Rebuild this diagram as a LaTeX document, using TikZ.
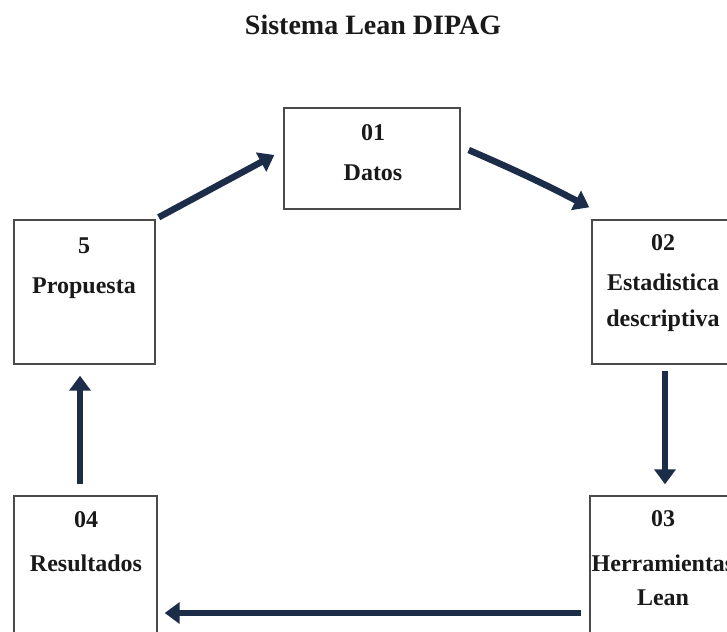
\documentclass[tikz,border=0pt]{standalone}
\usepackage{fontspec}
\setmainfont{Liberation Serif}
\usetikzlibrary{arrows.meta,calc}

\definecolor{navy}{HTML}{1B2D49}
\definecolor{frame}{HTML}{4A4A4A}

\tikzset{
  stage/.style={draw=frame, line width=1.4pt, fill=white, rectangle, inner sep=0pt},
  lbl/.style={anchor=base, inner sep=0pt, font=\fontsize{24}{28}\selectfont\bfseries, text=black!90},
  flow/.style={draw=navy, line width=6.5pt, -{Triangle[width=21pt,length=15pt]}},
  heading/.style={anchor=base, inner sep=0pt, font=\fontsize{28}{32}\selectfont\bfseries, text=black!90}
}

\begin{document}
\begin{tikzpicture}[x=1pt,y=1pt]
  \useasboundingbox (0,0) rectangle (727,-631);
  \clip (0,0) rectangle (727,-631);
  \fill[white] (0,0) rectangle (727,-631);

  % title
  \node[heading] (title) at (373,-35) {Sistema Lean DIPAG};

  % process stages
  \node[stage, minimum width=176pt, minimum height=101pt] (b1) at (372,-158.5) {};
  \node[stage, minimum width=141pt, minimum height=144pt] (b5) at (84.5,-292) {};
  \node[stage, minimum width=142pt, minimum height=144pt] (b2) at (663,-292) {};
  \node[stage, minimum width=144pt, minimum height=144pt] (b3) at (662,-568) {};
  \node[stage, minimum width=143pt, minimum height=144pt] (b4) at (85.5,-568) {};

  % stage texts
  \node[lbl] (t1a) at (373,-141) {01};
  \node[lbl] (t1b) at (373,-180) {Datos};
  \node[lbl] (t5a) at (84,-253) {5};
  \node[lbl] (t5b) at (84,-293) {Propuesta};
  \node[lbl] (t2a) at (663,-250) {02};
  \node[lbl] (t2b) at (663,-290) {Estadistica};
  \node[lbl] (t2c) at (663,-326) {descriptiva};
  \node[lbl] (t3a) at (663,-526) {03};
  \node[lbl] (t3b) at (663,-571) {Herramientas};
  \node[lbl] (t3c) at (663,-605) {Lean};
  \node[lbl] (t4a) at (86,-527) {04};
  \node[lbl] (t4b) at (86,-571) {Resultados};

  % cycle arrows
  \draw[flow] ([shift={(3,2)}]b5.north east) -- ([shift={(-9,3.5)}]b1.west);
  \draw[flow] ([shift={(8,8.5)}]b1.east) to[bend left=2] ([shift={(-2,12)}]b2.north west);
  \draw[flow] ([shift={(2,-6)}]b2.south) -- ([shift={(3,11)}]b3.north);
  \draw[flow] ([shift={(-8,-45)}]b3.west) -- ([shift={(7,-45)}]b4.east);
  \draw[flow] ([shift={(-5.5,11)}]b4.north) -- ([shift={(-4.5,-11)}]b5.south);
\end{tikzpicture}
\end{document}
